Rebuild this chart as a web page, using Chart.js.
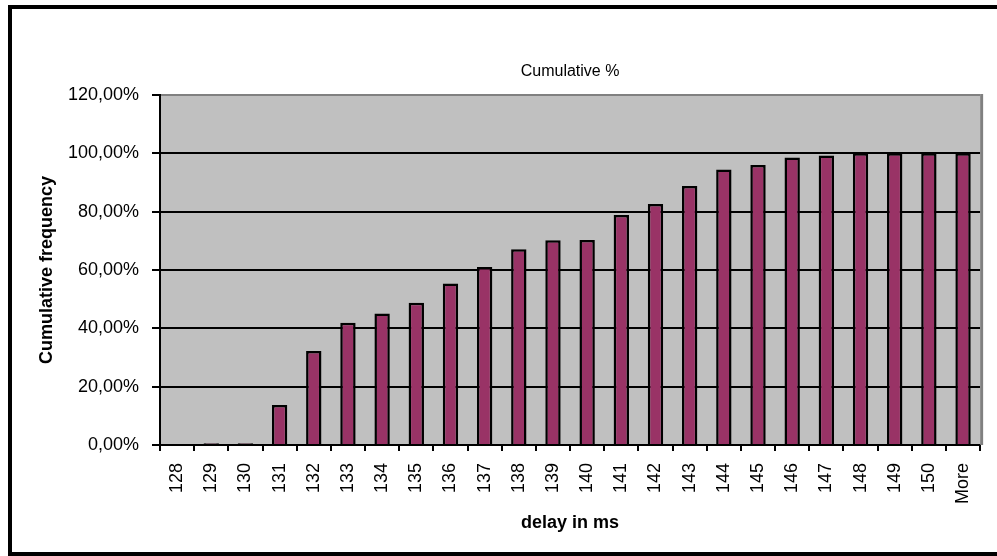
<!DOCTYPE html>
<html>
<head>
<meta charset="utf-8">
<script src="https://cdn.jsdelivr.net/npm/chart.js@4/dist/chart.umd.min.js"></script>
<style>
  html, body { margin: 0; padding: 0; background: #fff; }
  #wrap { width: 997px; height: 556px; }
</style>
</head>
<body>
<div id="wrap"><canvas id="c" width="997" height="556"></canvas></div>
<script>
const categories = ['128','129','130','131','132','133','134','135','136','137','138','139','140','141','142','143','144','145','146','147','148','149','150','More'];
const cumulativePercent = [0, 0.6, 0.6, 13.7, 32.2, 41.9, 45.1, 48.8, 55.4, 61.0, 67.1, 70.2, 70.3, 78.9, 82.6, 88.8, 94.5, 96.0, 98.6, 99.3, 100, 100, 100, 100];
const yTicks = [0, 20, 40, 60, 80, 100, 120];
const chartTitle = 'Cumulative %';
const xTitle = 'delay in ms';
const yTitle = 'Cumulative frequency';

const FONT = "'Liberation Sans', Arial, sans-serif";

const decor = {
  id: 'decor',
  beforeDraw(chart) {
    const { ctx, chartArea: a } = chart;
    ctx.save();
    ctx.fillStyle = '#fff';
    ctx.fillRect(0, 0, chart.width, chart.height);
    ctx.fillStyle = '#C0C0C0';
    ctx.fillRect(a.left, a.top, a.right - a.left, a.bottom - a.top);
    ctx.restore();
  },
  afterDraw(chart) {
    const { ctx, chartArea: a } = chart;
    ctx.save();
    // plot area right border
    ctx.strokeStyle = '#808080';
    ctx.lineWidth = 3;
    ctx.beginPath();
    ctx.moveTo(a.right + 1.5, a.top - 1);
    ctx.lineTo(a.right + 1.5, a.bottom);
    ctx.stroke();
    // outer chart border
    ctx.strokeStyle = '#000';
    ctx.lineWidth = 4;
    ctx.strokeRect(10, 7, 1000, 547);
    ctx.restore();
  }
};

new Chart(document.getElementById('c'), {
  type: 'bar',
  data: {
    labels: categories,
    datasets: [{
      label: chartTitle,
      data: cumulativePercent,
      backgroundColor: '#993366',
      borderColor: '#000000',
      borderWidth: 2.5,
      barPercentage: 0.45,
      categoryPercentage: 1.0
    }]
  },
  options: {
    responsive: false,
    animation: false,
    layout: { padding: { top: 0, right: 12, bottom: 0, left: 0 } },
    plugins: {
      legend: { display: false },
      tooltip: { enabled: false },
      title: {
        display: true,
        text: chartTitle,
        fullSize: false,
        color: '#000',
        font: { family: FONT, size: 16, weight: 'normal', lineHeight: 1.2 },
        padding: { top: 62.4, bottom: 13.4 }
      }
    },
    scales: {
      x: {
        grid: {
          offset: true,
          drawOnChartArea: false,
          drawTicks: true,
          tickLength: 6,
          tickColor: '#000',
          lineWidth: 2
        },
        border: { display: true, color: '#000', width: 2 },
        ticks: {
          autoSkip: false,
          minRotation: 90,
          maxRotation: 90,
          padding: 12,
          color: '#000',
          font: { family: FONT, size: 18 }
        },
        title: {
          display: true,
          text: xTitle,
          color: '#000',
          font: { family: FONT, size: 18, weight: 'bold', lineHeight: 1.2 },
          padding: { top: 0, bottom: 22.2 }
        },
        afterFit(scale) { scale.height = 111; }
      },
      y: {
        min: 0,
        max: 120,
        afterBuildTicks(scale) { scale.ticks = yTicks.map(v => ({ value: v })); },
        grid: {
          color: (c) => (c.tick && c.tick.value === 120) ? '#808080' : '#000',
          lineWidth: 2,
          drawTicks: true,
          tickLength: 8,
          tickColor: '#000'
        },
        border: { display: true, color: '#000', width: 2 },
        ticks: {
          padding: 13,
          color: '#000',
          font: { family: FONT, size: 18 },
          callback: (v) => Number(v).toFixed(2).replace('.', ',') + '%'
        },
        title: {
          display: true,
          text: yTitle,
          color: '#000',
          font: { family: FONT, size: 18, weight: 'bold', lineHeight: 1.2 },
          padding: { top: 36.2, bottom: 0 }
        },
        afterFit(scale) { scale.width = 160; }
      }
    }
  },
  plugins: [decor]
});
</script>
</body>
</html>
